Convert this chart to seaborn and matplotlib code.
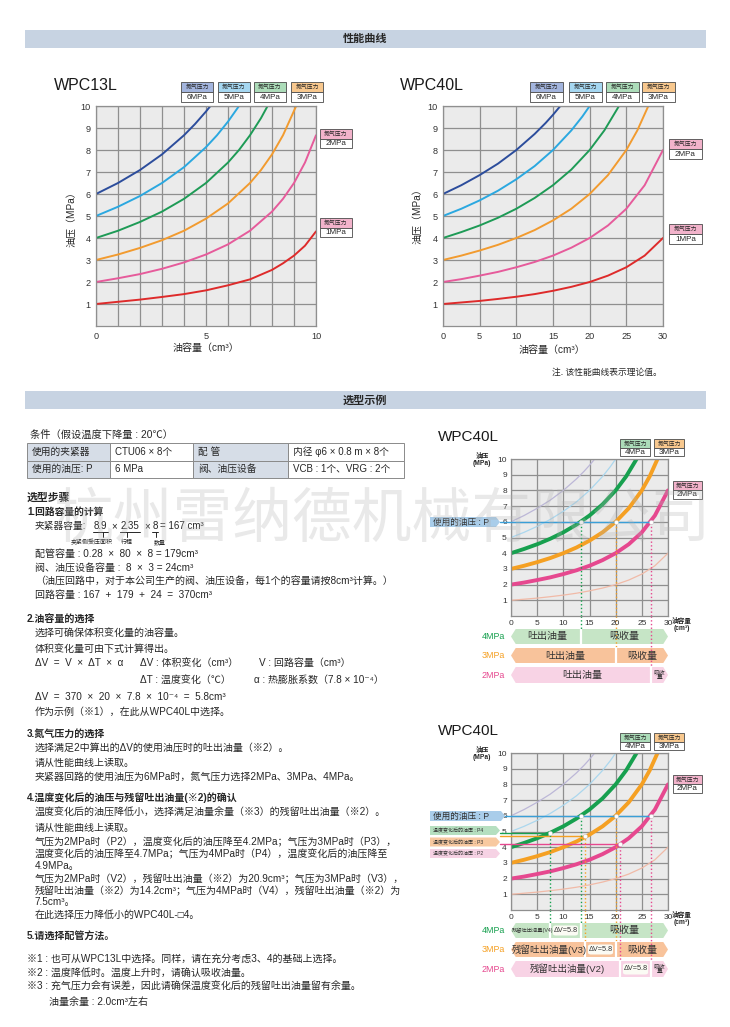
import numpy as np
import pandas as pd
import matplotlib
matplotlib.use("Agg")
import matplotlib.pyplot as plt
from matplotlib.patches import Rectangle, Polygon, FancyBboxPatch
import matplotlib.transforms as mtransforms
import seaborn as sns

# ------------------------------------------------------------------ data
gas_levels = ["6MPa", "5MPa", "4MPa", "3MPa", "2MPa", "1MPa"]

# WPC13L : oil volume (cm3) -> oil pressure (MPa)
w13_v_6 = [0, 1, 2, 3, 4, 4.5, 5, 5.2]
w13_p_6 = [6.0, 6.5, 7.09, 7.8, 8.67, 9.18, 9.75, 10.0]
w13_v_5 = [0, 1, 2, 3, 4, 5, 5.5, 6, 6.5]
w13_p_5 = [5.0, 5.42, 5.91, 6.5, 7.22, 8.13, 8.67, 9.29, 10.0]
w13_v_4 = [0, 1, 2, 3, 4, 5, 6, 6.5, 7, 7.5, 7.8]
w13_p_4 = [4.0, 4.33, 4.73, 5.2, 5.78, 6.5, 7.43, 8.0, 8.67, 9.45, 10.0]
w13_v_3 = [0, 1, 2, 3, 4, 5, 6, 7, 7.5, 8, 8.5, 9.1]
w13_p_3 = [3.0, 3.25, 3.55, 3.9, 4.33, 4.88, 5.57, 6.5, 7.09, 7.8, 8.67, 10.0]
w13_v_2 = [0, 1, 2, 3, 4, 5, 6, 7, 8, 8.5, 9, 9.5, 10]
w13_p_2 = [2.0, 2.17, 2.36, 2.6, 2.89, 3.25, 3.71, 4.33, 5.2, 5.78, 6.5, 7.43, 8.67]
w13_v_1 = [0, 1, 2, 3, 4, 5, 6, 7, 8, 8.5, 9, 9.5, 10]
w13_p_1 = [1.0, 1.1, 1.2, 1.32, 1.45, 1.62, 1.85, 2.12, 2.55, 2.85, 3.2, 3.65, 4.3]

# WPC40L
w40_v_6 = [0, 2.5, 5, 7.5, 10, 12.5, 14, 15, 16]
w40_p_6 = [6.0, 6.4, 6.86, 7.38, 8.0, 8.73, 9.23, 9.6, 10.0]
w40_v_5 = [0, 2.5, 5, 7.5, 10, 12.5, 15, 17.5, 19, 20]
w40_p_5 = [5.0, 5.33, 5.71, 6.15, 6.67, 7.27, 8.0, 8.89, 9.52, 10.0]
w40_v_4 = [0, 2.5, 5, 7.5, 10, 12.5, 15, 17.5, 20, 22, 24]
w40_p_4 = [4.0, 4.27, 4.57, 4.92, 5.33, 5.82, 6.4, 7.11, 8.0, 8.89, 10.0]
w40_v_3 = [0, 2.5, 5, 7.5, 10, 12.5, 15, 17.5, 20, 22.5, 25, 26.5, 28]
w40_p_3 = [3.0, 3.2, 3.43, 3.69, 4.0, 4.36, 4.8, 5.33, 6.0, 6.86, 8.0, 8.89, 10.0]
w40_v_2 = [0, 2.5, 5, 7.5, 10, 12.5, 15, 17.5, 20, 22.5, 25, 27.5, 30]
w40_p_2 = [2.0, 2.13, 2.29, 2.46, 2.67, 2.91, 3.2, 3.56, 4.0, 4.57, 5.33, 6.4, 8.0]
w40_v_1 = [0, 2.5, 5, 7.5, 10, 12.5, 15, 17.5, 20, 22.5, 25, 27.5, 30]
w40_p_1 = [1.0, 1.07, 1.14, 1.23, 1.33, 1.45, 1.6, 1.78, 2.0, 2.29, 2.67, 3.2, 4.0]

p_ticks = [1, 2, 3, 4, 5, 6, 7, 8, 9, 10]
w13_xticks = [0, 5, 10]
w13_xgrid = [0, 1, 2, 3, 4, 5, 6, 7, 8, 9, 10]
w40_xticks = [0, 5, 10, 15, 20, 25, 30]

# selection example (WPC40L)
sel_gas = ["4MPa", "3MPa", "2MPa"]
use_pressure = 6.0
sel_v_use = [13.3, 20.0, 26.7]      # discharge volume at P
sel_p_after = [4.9, 4.7, 4.2]       # P4, P3, P2
sel_v_after = [7.5, 14.2, 20.9]     # V4, V3, V2
sel_tags = ["P4", "P3", "P2"]
sel_vtags = ["V4", "V3", "V2"]

table_rows = [["使用的夹紧器", "CTU06 × 8个", "配 管", "内径 φ6 × 0.8 m × 8个"],
              ["使用的油压: P", "6 MPa", "阀、油压设备", "VCB : 1个、VRG : 2个"]]

# ------------------------------------------------------------------ style
gas_colors = {"6MPa": "#2c4d9c", "5MPa": "#2ba8e0", "4MPa": "#1e9b56",
              "3MPa": "#f29b2f", "2MPa": "#e65b9b", "1MPa": "#de2b2b"}
gas_fill = {"6MPa": "#a3b5de", "5MPa": "#a5d7f1", "4MPa": "#acdcb9",
            "3MPa": "#f8c88e", "2MPa": "#f2b3cb", "1MPa": "#f2b3cb"}
faded_colors = {"6MPa": "#bcb7d7", "5MPa": "#abd7ee", "1MPa": "#f1baa7"}
strong_colors = {"4MPa": "#17a04f", "3MPa": "#f5a023", "2MPa": "#e6488f"}
bar_fill = {"4MPa": "#c6e5c6", "3MPa": "#f8c39b", "2MPa": "#f8d3e5"}
tag_fill = {"P": "#a9cdea", "4MPa": "#b5dfc0", "3MPa": "#f8c9a0", "2MPa": "#f6d2e4"}
BLUE = "#3a9fd8"
TXT = "#262626"

W, H = 730, 1027
sns.set_theme(style="white")
plt.rcParams["font.family"] = ["Liberation Sans", "Noto Sans CJK SC", "DejaVu Sans"]
plt.rcParams["axes.unicode_minus"] = False

fig = plt.figure(figsize=(W / 100, H / 100), dpi=100)
fig.patch.set_facecolor("white")


def frect(x0, y0, x1, y1):
    return [x0 / W, 1 - y1 / H, (x1 - x0) / W, (y1 - y0) / H]


under = fig.add_axes([0, 0, 1, 1], zorder=0)
under.set_xlim(0, W); under.set_ylim(H, 0); under.axis("off")
over = fig.add_axes([0, 0, 1, 1], zorder=20)
over.set_xlim(0, W); over.set_ylim(H, 0); over.axis("off")


def txt(x, y, s, size=7.2, ax=None, **kw):
    ax = ax or over
    kw.setdefault("color", TXT)
    kw.setdefault("va", "center")
    return ax.text(x, y, s, fontsize=size, **kw)


def curve_df(vs, ps, labels):
    return pd.concat([pd.DataFrame({"v": v, "p": p, "gas": g})
                      for v, p, g in zip(vs, ps, labels)], ignore_index=True)


df13 = curve_df([w13_v_6, w13_v_5, w13_v_4, w13_v_3, w13_v_2, w13_v_1],
                [w13_p_6, w13_p_5, w13_p_4, w13_p_3, w13_p_2, w13_p_1], gas_levels)
df40 = curve_df([w40_v_6, w40_v_5, w40_v_4, w40_v_3, w40_v_2, w40_v_1],
                [w40_p_6, w40_p_5, w40_p_4, w40_p_3, w40_p_2, w40_p_1], gas_levels)


def style_axes(ax, xmax, xmajor, xminor, labelsize, pad=3):
    ax.set_facecolor("#ebebeb")
    ax.set_xlim(0, xmax); ax.set_ylim(0, 10)
    ax.set_xticks(xmajor)
    ax.set_xticks(xminor, minor=True)
    ax.set_yticks(p_ticks)
    ax.grid(True, which="both", color="#8f8f8f", lw=0.9)
    ax.tick_params(which="both", length=0, labelsize=labelsize, colors="#333333", pad=pad)
    for s in ax.spines.values():
        s.set_color("#8f8f8f"); s.set_linewidth(0.9)
    ax.set_xlabel(""); ax.set_ylabel("")
    ax.set_axisbelow(True)


def gas_box(x0, y0, w, h, gas):
    over.add_patch(Rectangle((x0, y0), w, h / 2, fc=gas_fill[gas], ec="#4a4a4a", lw=0.6))
    over.add_patch(Rectangle((x0, y0 + h / 2), w, h / 2, fc="white", ec="#4a4a4a", lw=0.6))
    txt(x0 + w / 2, y0 + h / 4 + 0.3, "氮气压力", 4.2, ha="center")
    txt(x0 + w / 2, y0 + 3 * h / 4 + 0.3, gas, 5.8, ha="center")


# ------------------------------------------------------------------ headers
for y0, y1, title in [(30, 48, "性能曲线"), (391, 409, "选型示例")]:
    under.add_patch(Rectangle((25, y0), 681, y1 - y0, fc="#c7d3e2", ec="none"))
    txt(365, (y0 + y1) / 2, title, 8, ha="center", fontweight="bold")

# ------------------------------------------------------------------ main charts
ax13 = fig.add_axes(frect(96, 106, 316, 326), zorder=5)
sns.lineplot(data=df13, x="v", y="p", hue="gas", palette=gas_colors, sort=False,
             estimator=None, legend=False, lw=1.4, ax=ax13)
style_axes(ax13, 10, w13_xticks, w13_xgrid, 6.6, pad=4)

ax40 = fig.add_axes(frect(443, 106, 663, 326), zorder=5)
sns.lineplot(data=df40, x="v", y="p", hue="gas", palette=gas_colors, sort=False,
             estimator=None, legend=False, lw=1.4, ax=ax40)
style_axes(ax40, 30, w40_xticks, [], 6.6, pad=4)

txt(54, 85, "WPC13L", 11.5, color="#1a1a1a")
txt(400, 85, "WPC40L", 11.5, color="#1a1a1a")
for cx, cy in [(206, 348), (552, 350)]:
    txt(cx, cy, "油容量（cm³）", 7.2, ha="center")
for cx, cy in [(71, 217), (417, 214)]:
    txt(cx, cy, "油压（MPa）", 7.2, ha="center", rotation=90)
txt(552, 372, "注. 该性能曲线表示理论值。", 6.3)

for x0, gas in zip([181, 218, 254, 291], gas_levels[:4]):
    gas_box(x0, 82, 32, 20, gas)
gas_box(320, 129, 32, 19, "2MPa")
gas_box(320, 218, 32, 19, "1MPa")
for x0, gas in zip([530, 569, 606, 642], gas_levels[:4]):
    gas_box(x0, 82, 33, 20, gas)
gas_box(669, 139, 33, 20, "2MPa")
gas_box(669, 224, 33, 20, "1MPa")

# ------------------------------------------------------------------ table & text
txt(30, 435, "条件（假设温度下降量 : 20℃）", 7.4)
col_x = [27, 110, 193, 288, 404]
row_y = [443, 460.5, 478]
for r, row in enumerate(table_rows):
    for c, cell in enumerate(row):
        under.add_patch(Rectangle((col_x[c], row_y[r]), col_x[c + 1] - col_x[c],
                                  row_y[r + 1] - row_y[r],
                                  fc="#d6dde7" if c % 2 == 0 else "white",
                                  ec="#8a8a8a", lw=0.7))
        txt(col_x[c] + 5, (row_y[r] + row_y[r + 1]) / 2, cell, 7.0)

txt(27, 498, "选型步骤", 7.8, fontweight="bold")
txt(27, 512, "1.回路容量的计算", 7.0, fontweight="bold")
# clamp capacity line with underlines
txt(35, 526, "夹紧器容量:", 7.0)
txt(94, 526, "8.9", 7.0)
txt(111, 526, "×", 7.0)
txt(121, 526, "2.35", 7.0)
txt(144, 526, "×", 7.0)
txt(153, 526, "8", 7.0)
txt(160, 526, "= 167 cm³", 7.0)
for a, b, m in [(93, 108, 103), (120, 140, 127), (152, 158, 156)]:
    over.plot([a, b], [531.5, 531.5], color=TXT, lw=0.7)
    over.plot([m, m], [531.5, 537], color=TXT, lw=0.7)
txt(92, 542, "夹紧侧受压面积", 4.3, ha="center")
txt(127, 542, "行程", 4.3, ha="center")
txt(160, 542, "数量", 4.3, ha="center")

body = [
    (35, 554, "配管容量 : 0.28  ×  80  ×  8 = 179cm³"),
    (35, 568, "阀、油压设备容量 :  8  ×  3 = 24cm³"),
    (35, 581, "（油压回路中，对于本公司生产的阀、油压设备，每1个的容量请按8cm³计算。）"),
    (35, 595, "回路容量 : 167  +  179  +  24  =  370cm³"),
    (35, 634, "选择可确保体积变化量的油容量。"),
    (35, 649, "体积变化量可由下式计算得出。"),
    (35, 663, "ΔV  =  V  ×  ΔT  ×  α"),
    (140, 663, "ΔV : 体积变化（cm³）"),
    (259, 663, "V : 回路容量（cm³）"),
    (140, 680, "ΔT : 温度变化（℃）"),
    (254, 680, "α : 热膨胀系数（7.8 × 10⁻⁴）"),
    (35, 697, "ΔV  =  370  ×  20  ×  7.8  ×  10⁻⁴  =  5.8cm³"),
    (35, 712, "作为示例（※1），在此从WPC40L中选择。"),
    (35, 748, "选择满足2中算出的ΔV的使用油压时的吐出油量（※2）。"),
    (35, 763, "请从性能曲线上读取。"),
    (35, 777, "夹紧器回路的使用油压为6MPa时，氮气压力选择2MPa、3MPa、4MPa。"),
    (35, 813, "温度变化后的油压降低小，选择满足油量余量（※3）的残留吐出油量（※2）。"),
    (35, 828, "请从性能曲线上读取。"),
    (35, 842, "气压为2MPa时（P2），温度变化后的油压降至4.2MPa；气压为3MPa时（P3），"),
    (35, 854, "温度变化后的油压降至4.7MPa；气压为4MPa时（P4），温度变化后的油压降至"),
    (35, 866, "4.9MPa。"),
    (35, 879, "气压为2MPa时（V2），残留吐出油量（※2）为20.9cm³；气压为3MPa时（V3），"),
    (35, 891, "残留吐出油量（※2）为14.2cm³；气压为4MPa时（V4），残留吐出油量（※2）为"),
    (35, 902, "7.5cm³。"),
    (35, 915, "在此选择压力降低小的WPC40L-□4。"),
    (27, 959, "※1 : 也可从WPC13L中选择。同样，请在充分考虑3、4的基础上选择。"),
    (27, 973, "※2 : 温度降低时。温度上升时，请确认吸收油量。"),
    (27, 987, "※3 : 充气压力会有误差，因此请确保温度变化后的残留吐出油量留有余量。"),
    (49, 1002, "油量余量 : 2.0cm³左右"),
]
for x, y, s in body:
    txt(x, y, s, 7.2)
for y, s in [(620, "2.油容量的选择"), (734, "3.氮气压力的选择"),
             (798, "4.温度变化后的油压与残留吐出油量(※2)的确认"), (936, "5.请选择配管方法。")]:
    txt(27, y, s, 7.2, fontweight="bold")


# ------------------------------------------------------------------ diagrams
def tag(x0, x1, yc, h, fill, text, size):
    pts = [(x0, yc - h / 2), (x1 - 4, yc - h / 2), (x1, yc), (x1 - 4, yc + h / 2), (x0, yc + h / 2)]
    over.add_patch(Polygon(pts, closed=True, fc=fill, ec="none"))
    txt(x0 + 3, yc + 0.3, text, size, color="#333333")


def diagram(top, detailed):
    bottom = top + 157
    ax = fig.add_axes(frect(511, top, 668, bottom), zorder=5)
    fade = df40[df40.gas.isin(list(faded_colors))]
    sns.lineplot(data=fade, x="v", y="p", hue="gas", palette=faded_colors, sort=False,
                 estimator=None, legend=False, lw=0.9, ax=ax)
    strong = df40[df40.gas.isin(sel_gas)]
    sns.lineplot(data=strong, x="v", y="p", hue="gas", palette=strong_colors, sort=False,
                 estimator=None, legend=False, lw=2.8, ax=ax)
    style_axes(ax, 30, w40_xticks, [], 6.0, pad=3)
    trans = mtransforms.blended_transform_factory(over.transData, ax.transData)

    txt(438, top - 22, "WPC40L", 11, color="#1a1a1a")
    txt(482, top + 1, "油压\n(MPa)", 4.8, ha="center", fontweight="bold", linespacing=1.1)
    txt(682, bottom + 9, "油容量\n(cm³)", 4.8, ha="center", fontweight="bold", linespacing=1.1)
    gas_box(620, top - 20, 30, 17, "4MPa")
    gas_box(654, top - 20, 30, 17, "3MPa")
    gas_box(673, top + 22, 29, 18, "2MPa")

    # use pressure line
    ax.plot([0, max(sel_v_use)], [use_pressure, use_pressure], color=BLUE, lw=1.0, zorder=3)
    if detailed:
        tag(430, 505, 816, 10, tag_fill["P"], "使用的油压 : P", 6.2)
        over.plot([505, 511], [use_pressure, use_pressure], color=BLUE, lw=1.0, transform=trans)
        tag_y = [830.5, 842, 853.5]
        for i, g in enumerate(sel_gas):
            tag(430, 500, tag_y[i], 9, tag_fill[g], "温度变化后的油压 : " + sel_tags[i], 3.6)
            c = strong_colors[g]
            ax.plot([0, sel_v_after[i]], [sel_p_after[i]] * 2, color=c, lw=1.0, zorder=3)
            over.plot([500, 511], [sel_p_after[i]] * 2, color=c, lw=1.0, transform=trans)
    else:
        tag(430, 500, 522, 10, tag_fill["P"], "使用的油压 : P", 6.2)
        over.plot([500, 511], [use_pressure, use_pressure], color=BLUE, lw=1.0, transform=trans)

    # dotted verticals + markers
    pts_v, pts_p = [], []
    for i, g in enumerate(sel_gas):
        c = strong_colors[g]
        ax.plot([sel_v_use[i]] * 2, [0, use_pressure], color=c, lw=1.0, ls=":", zorder=3)
        pts_v.append(sel_v_use[i]); pts_p.append(use_pressure)
        if detailed:
            ax.plot([sel_v_after[i]] * 2, [0, sel_p_after[i]], color=c, lw=1.0, ls=":", zorder=3)
            pts_v.append(sel_v_after[i]); pts_p.append(sel_p_after[i])
    sns.scatterplot(x=pts_v, y=pts_p, color="white", s=9, edgecolor="#bbbbbb",
                    linewidth=0.3, zorder=6, ax=ax, legend=False)
    ax.set_xlabel(""); ax.set_ylabel("")

    # bars
    bax = fig.add_axes(frect(511, bottom + 13, 668, bottom + 69), zorder=4)
    bax.set_xlim(0, 30); bax.set_ylim(56, 0); bax.axis("off")
    rows = [(0, 15), (19, 34), (38, 54)]
    for i, g in enumerate(sel_gas):
        t, b = rows[i]
        m = (t + b) / 2
        poly = [(0, m), (0.9, t), (29.1, t), (30, m), (29.1, b), (0.9, b)]
        bax.add_patch(Polygon(poly, closed=True, fc=bar_fill[g], ec="none"))
        bax.text(-1.2, m, g, color=strong_colors[g], ha="right", va="center", fontsize=6.4)
        c = strong_colors[g]
        if detailed:
            splits = [sel_v_after[i], sel_v_use[i]]
        else:
            splits = [sel_v_use[i]]
        for s in splits:
            bax.plot([s, s], [-13, t], color=c, lw=1.0, ls=":", clip_on=False)
            bax.plot([s, s], [t, b], color="white", lw=1.6)
        last = splits[-1]
        if 30 - last < 5:
            bax.text((last + 30) / 2, m, "吸收\n量", fontsize=4.2, ha="center", va="center",
                     color="#333333", linespacing=1.0)
        else:
            bax.text((last + 30) / 2, m, "吸收量", fontsize=7.2, ha="center", va="center", color="#333333")
        if detailed:
            a, bb = splits
            bax.add_patch(FancyBboxPatch((a + 0.5, t + 2.5), bb - a - 1.0, b - t - 5,
                                         boxstyle="round,pad=0,rounding_size=0.6",
                                         fc="#fbfbf4", ec="none", mutation_aspect=3))
            bax.text((a + bb) / 2, m, "ΔV=5.8", fontsize=5.2, ha="center", va="center", color="#333333")
            lab = "残留吐出油量(" + sel_vtags[i] + ")"
            bax.text(a / 2 + 0.3, m, lab, fontsize=3.8 if a < 10 else 6.8, ha="center",
                     va="center", color="#333333")
        else:
            bax.text(last / 2 + 0.3, m, "吐出油量", fontsize=7.2, ha="center", va="center", color="#333333")


diagram(459, False)
diagram(753, True)

# ------------------------------------------------------------------ watermark
txt(382, 520, "杭州雷纳德机械有限公司", 43, ha="center", color="#b0b0b0", alpha=0.28,
    fontweight="light")

fig.savefig("out.png", dpi=100, facecolor="white")
